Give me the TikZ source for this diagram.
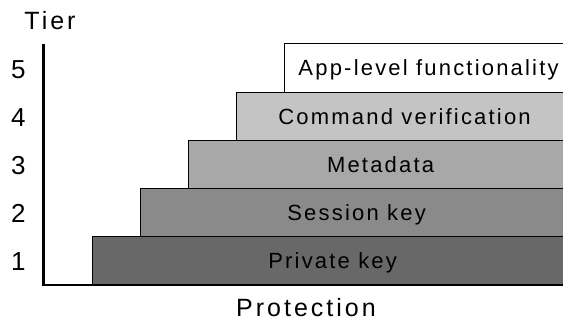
\documentclass[tikz,border=0pt]{standalone}
\usepackage{fontspec}
\setmainfont{Liberation Sans}
\newfontfamily\boxfont{Liberation Sans}[LetterSpace=10]
\newfontfamily\axisfont{Liberation Sans}[LetterSpace=12]
\definecolor{tierA}{RGB}{104,104,104}
\definecolor{tierB}{RGB}{138,138,138}
\definecolor{tierC}{RGB}{168,168,168}
\definecolor{tierD}{RGB}{196,196,196}
\definecolor{tierE}{RGB}{255,255,255}
\begin{document}
\begin{tikzpicture}[x=1pt,y=1pt,
  tierbox/.style={draw=black, line width=1.2pt, anchor=south west, inner sep=0pt,
    minimum height=48pt, text height=16pt, text depth=0pt,
    font=\boxfont\fontsize{22}{24}\selectfont},
  axislabel/.style={anchor=base, inner sep=0pt, font=\axisfont\fontsize{25}{28}\selectfont},
  tiernum/.style={anchor=base, inner sep=0pt, font=\fontsize{26}{28}\selectfont},
  axisline/.style={line width=2.2pt}
]
\clip (0,0) rectangle (563,324);
\fill[white] (0,0) rectangle (563,324);
% boxes
\node[tierbox, fill=tierA, minimum width=480pt] (t1) at (92,39) {Private key};
\node[tierbox, fill=tierB, minimum width=432pt] (t2) at (140,87) {Session key};
\node[tierbox, fill=tierC, minimum width=384pt] (t3) at (188,135) {Metadata};
\node[tierbox, fill=tierD, minimum width=336pt] (t4) at (236,183) {Command verification};
\node[tierbox, fill=tierE, minimum width=288pt, minimum height=49pt] (t5) at (284,231) {App-level functionality};
% axes
\coordinate (origin) at (43.5,39);
\coordinate (ytop) at (43.5,280);
\coordinate (xend) at (570,39);
\draw[axisline] (ytop) -- (origin) -- (xend);
% labels
\node[axislabel] (tierlabel) at (50,294) {Tier};
\node[axislabel] (protlabel) at (306,7) {Protection};
\node[tiernum] (n1) at (18.3,53) {1};
\node[tiernum] (n2) at (18.3,101) {2};
\node[tiernum] (n3) at (18.3,149) {3};
\node[tiernum] (n4) at (18.3,197) {4};
\node[tiernum] (n5) at (18.3,245) {5};
\end{tikzpicture}
\end{document}
